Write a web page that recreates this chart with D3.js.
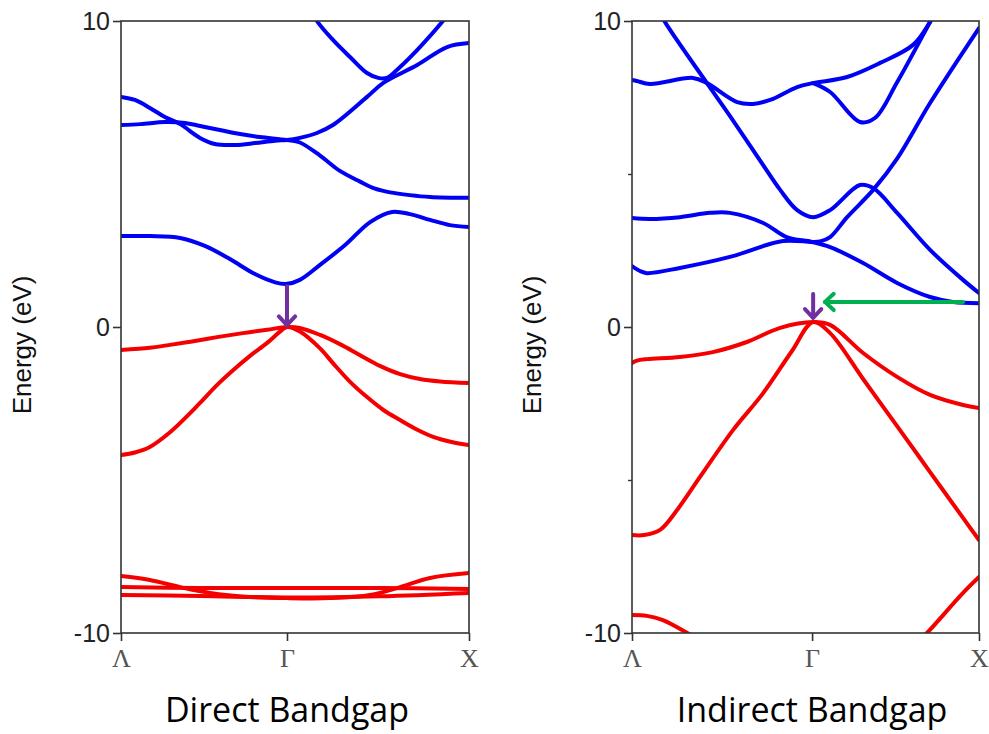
<!DOCTYPE html>
<html>
<head>
<meta charset="utf-8">
<script src="https://cdn.jsdelivr.net/npm/d3@7"></script>
<style>
  html, body { margin: 0; padding: 0; background: #fff; }
  svg { display: block; }
</style>
</head>
<body>
<svg id="chart" width="989" height="734"></svg>
<script>
// k runs from Λ (0) to X (1); energies in eV
var kTickLabels = ["Λ", "Γ", "X"];
var yTicks = [-10, 0, 10];
var yMinorTicks = [-5, 5];

// ---- Direct bandgap panel ----
var directGamma = 0.477;
var directConduction = [
  { k: [0, 0.083, 0.17, 0.241, 0.313, 0.385, 0.443, 0.477, 0.514, 0.572, 0.644, 0.716, 0.779, 0.83, 0.888, 0.945, 1],
    e: [2.97, 2.97, 2.91, 2.65, 2.22, 1.73, 1.46, 1.41, 1.54, 2.03, 2.68, 3.43, 3.76, 3.69, 3.5, 3.33, 3.27] },
  { k: [0, 0.04, 0.083, 0.126, 0.17, 0.227, 0.27, 0.328, 0.385, 0.443, 0.477, 0.514, 0.563, 0.609, 0.707, 0.753, 0.851, 0.937, 1],
    e: [7.52, 7.42, 7.16, 6.86, 6.63, 6.18, 5.98, 5.95, 6.01, 6.09, 6.11, 6.18, 6.34, 6.6, 7.52, 7.97, 8.56, 9.15, 9.28] },
  { k: [0, 0.056, 0.126, 0.184, 0.227, 0.284, 0.342, 0.399, 0.477, 0.514, 0.572, 0.629, 0.687, 0.73, 0.773, 0.83, 0.888, 1],
    e: [6.6, 6.63, 6.7, 6.67, 6.57, 6.44, 6.31, 6.21, 6.11, 6.03, 5.6, 5.1, 4.75, 4.52, 4.4, 4.31, 4.25, 4.22] },
  { k: [0.54, 0.563, 0.609, 0.661, 0.707, 0.739, 0.764, 0.802, 0.859, 0.925, 0.945],
    e: [10.5, 10.0, 9.38, 8.79, 8.3, 8.14, 8.14, 8.5, 9.15, 10.0, 10.3] }
];
var directValence = [
  { k: [0, 0.083, 0.132, 0.2, 0.276, 0.35, 0.42, 0.477, 0.514, 0.572, 0.629, 0.687, 0.744, 0.802, 0.859, 0.917, 1],
    e: [-0.75, -0.68, -0.6, -0.48, -0.33, -0.2, -0.09, 0, -0.03, -0.26, -0.56, -0.92, -1.27, -1.54, -1.7, -1.78, -1.83] },
  { k: [0, 0.04, 0.083, 0.14, 0.2, 0.227, 0.28, 0.322, 0.37, 0.42, 0.455, 0.477, 0.514, 0.572, 0.609, 0.659, 0.707, 0.755, 0.802, 0.85, 0.897, 0.95, 1],
    e: [-4.18, -4.1, -3.92, -3.45, -2.8, -2.48, -1.85, -1.41, -0.95, -0.52, -0.17, 0, -0.15, -0.7, -1.18, -1.8, -2.29, -2.72, -3.04, -3.35, -3.59, -3.76, -3.86] },
  { k: [0, 0.083, 0.17, 0.256, 0.371, 0.477, 0.601, 0.716, 0.802, 0.888, 1],
    e: [-8.14, -8.27, -8.5, -8.69, -8.82, -8.86, -8.86, -8.76, -8.5, -8.2, -8.04] },
  { k: [0, 0.227, 0.477, 0.744, 1],
    e: [-8.5, -8.53, -8.53, -8.53, -8.56] },
  { k: [0, 0.227, 0.477, 0.744, 1],
    e: [-8.76, -8.79, -8.84, -8.8, -8.69] }
];

// ---- Indirect bandgap panel ----
var indirectGamma = 0.519;
var indirectConduction = [
  { k: [0.08, 0.095, 0.216, 0.282, 0.378, 0.427, 0.476, 0.522, 0.571, 0.657, 0.695, 0.764, 0.859, 0.954, 1],
    e: [10.3, 9.97, 7.97, 6.9, 5.29, 4.48, 3.82, 3.59, 3.82, 4.64, 4.54, 3.73, 2.52, 1.54, 1.11] },
  { k: [0, 0.023, 0.043, 0.138, 0.282, 0.435, 0.519, 0.542, 0.571, 0.62, 0.695, 0.764, 0.859, 1],
    e: [1.99, 1.83, 1.76, 1.93, 2.29, 2.81, 2.78, 2.8, 2.94, 3.59, 4.48, 5.5, 7.32, 9.77] },
  { k: [0, 0.052, 0.138, 0.225, 0.282, 0.378, 0.445, 0.519, 0.571, 0.666, 0.764, 0.859, 0.925, 1],
    e: [3.56, 3.53, 3.59, 3.73, 3.73, 3.4, 2.94, 2.78, 2.61, 2.09, 1.44, 0.98, 0.82, 0.78] },
  { k: [0, 0.014, 0.052, 0.176, 0.216, 0.303, 0.349, 0.398, 0.476, 0.522, 0.62, 0.715, 0.81, 0.859, 0.88],
    e: [8.07, 8.04, 7.94, 8.14, 7.97, 7.35, 7.29, 7.42, 7.84, 7.97, 8.17, 8.63, 9.22, 9.97, 10.4] },
  { k: [0.522, 0.571, 0.657, 0.7, 0.764, 0.859, 0.88],
    e: [7.97, 7.68, 6.7, 6.83, 8.0, 9.97, 10.4] }
];
var indirectValence = [
  { k: [0, 0.014, 0.043, 0.138, 0.233, 0.331, 0.427, 0.522, 0.571, 0.666, 0.764, 0.859, 0.954, 1],
    e: [-1.18, -1.1, -1.05, -0.98, -0.82, -0.49, -0.03, 0.16, 0.07, -0.85, -1.63, -2.22, -2.55, -2.65] },
  { k: [0, 0.035, 0.081, 0.13, 0.196, 0.291, 0.378, 0.46, 0.522, 0.571, 0.666, 0.764, 0.859, 0.954, 1],
    e: [-6.8, -6.8, -6.63, -5.98, -4.9, -3.37, -2.16, -0.8, 0.16, -0.2, -1.7, -3.24, -4.74, -6.24, -6.96] },
  { k: [0, 0.043, 0.089, 0.159, 0.2],
    e: [-9.41, -9.44, -9.58, -10.0, -10.3] },
  { k: [0.82, 0.85, 0.954, 1],
    e: [-10.33, -10.0, -8.69, -8.17] }
];

// gap arrows: [k1, e1] -> [k2, e2]
var directArrows = [
  { from: [0.477, 1.33], to: [0.477, 0.06], color: "#7030a0" }
];
var indirectArrows = [
  { from: [0.522, 1.08], to: [0.522, 0.3], color: "#7030a0" },
  { from: [0.954, 0.82], to: [0.556, 0.82], color: "#00b050" }
];

var panels = [
  { left: 121, right: 469, gamma: directGamma, cb: directConduction, vb: directValence,
    arrows: directArrows, title: "Direct Bandgap", minor: false, labelX: 31 },
  { left: 632, right: 979, gamma: indirectGamma, cb: indirectConduction, vb: indirectValence,
    arrows: indirectArrows, title: "Indirect Bandgap", minor: true, labelX: 541 }
];

var svg = d3.select("#chart");
var plotTop = 21, plotBottom = 633;

var y = d3.scaleLinear().domain([-10, 10]).range([plotBottom, plotTop]);

panels.forEach(function(p, i) {
  var x = d3.scaleLinear().domain([0, 1]).range([p.left, p.right]);
  var g = svg.append("g");

  var clipId = "clip" + i;
  svg.append("clipPath").attr("id", clipId)
    .append("rect")
    .attr("x", p.left).attr("y", plotTop)
    .attr("width", p.right - p.left).attr("height", plotBottom - plotTop);

  var line = d3.line()
    .x(function(d) { return x(d[0]); })
    .y(function(d) { return y(d[1]); })
    .curve(d3.curveCatmullRom.alpha(0.5));

  function drawBands(bands, color) {
    g.append("g").attr("clip-path", "url(#" + clipId + ")")
      .selectAll("path")
      .data(bands)
      .enter().append("path")
      .attr("d", function(b) { return line(b.k.map(function(k, j) { return [k, b.e[j]]; })); })
      .attr("fill", "none")
      .attr("stroke", color)
      .attr("stroke-width", 4)
      .attr("stroke-linecap", "round")
      .attr("stroke-linejoin", "round");
  }
  drawBands(p.cb, "#0000f5");
  drawBands(p.vb, "#f50000");

  // arrows
  p.arrows.forEach(function(a) {
    var x1 = x(a.from[0]), y1 = y(a.from[1]), x2 = x(a.to[0]), y2 = y(a.to[1]);
    var ang = Math.atan2(y2 - y1, x2 - x1), len = 12, spread = Math.PI / 4.2;
    var ag = g.append("g").attr("stroke", a.color).attr("stroke-width", 4)
      .attr("fill", "none").attr("stroke-linecap", "round").attr("stroke-linejoin", "round");
    ag.append("line").attr("x1", x1).attr("y1", y1).attr("x2", x2).attr("y2", y2);
    ag.append("path").attr("d", d3.line()([
      [x2 - len * Math.cos(ang - spread), y2 - len * Math.sin(ang - spread)],
      [x2, y2],
      [x2 - len * Math.cos(ang + spread), y2 - len * Math.sin(ang + spread)]
    ]));
  });

  // frame
  g.append("rect")
    .attr("x", p.left).attr("y", plotTop)
    .attr("width", p.right - p.left).attr("height", plotBottom - plotTop)
    .attr("fill", "none").attr("stroke", "#333").attr("stroke-width", 1.6);

  // y axis
  var yAxis = d3.axisLeft(y).tickValues(yTicks).tickSize(8).tickPadding(3)
    .tickFormat(function(d) { return String(d); });
  var ya = g.append("g").attr("transform", "translate(" + p.left + ",0)").call(yAxis);
  ya.select(".domain").remove();
  ya.selectAll("line").attr("stroke", "#333").attr("stroke-width", 1.6);
  ya.selectAll("text").attr("font-family", "Liberation Sans, Arial, sans-serif")
    .attr("font-size", 25).attr("fill", "#222");
  if (p.minor) {
    var ym = g.append("g").attr("transform", "translate(" + p.left + ",0)")
      .call(d3.axisLeft(y).tickValues(yMinorTicks).tickSize(4).tickFormat(""));
    ym.select(".domain").remove();
    ym.selectAll("line").attr("stroke", "#333").attr("stroke-width", 1.4);
  }

  // x axis
  var kTicks = [0, p.gamma, 1];
  var xAxis = d3.axisBottom(x).tickValues(kTicks).tickSize(8).tickPadding(8)
    .tickFormat(function(d, j) { return kTickLabels[j]; });
  var xa = g.append("g").attr("transform", "translate(0," + plotBottom + ")").call(xAxis);
  xa.select(".domain").remove();
  xa.selectAll("line").attr("stroke", "#333").attr("stroke-width", 1.6);
  xa.selectAll("text").attr("font-family", "Liberation Serif, Times New Roman, serif")
    .attr("font-size", 26).attr("fill", "#555");

  // y label
  g.append("text")
    .attr("transform", "translate(" + p.labelX + "," + 345 + ") rotate(-90)")
    .attr("text-anchor", "middle")
    .attr("font-family", "Liberation Sans, Arial, sans-serif")
    .attr("font-size", 26).attr("fill", "#111")
    .text("Energy (eV)");

  // panel title
  g.append("text")
    .attr("x", x(p.gamma)).attr("y", 722)
    .attr("text-anchor", "middle")
    .attr("font-family", "Open Sans, sans-serif")
    .attr("font-size", 34).attr("fill", "#000")
    .text(p.title);
});
</script>
</body>
</html>
